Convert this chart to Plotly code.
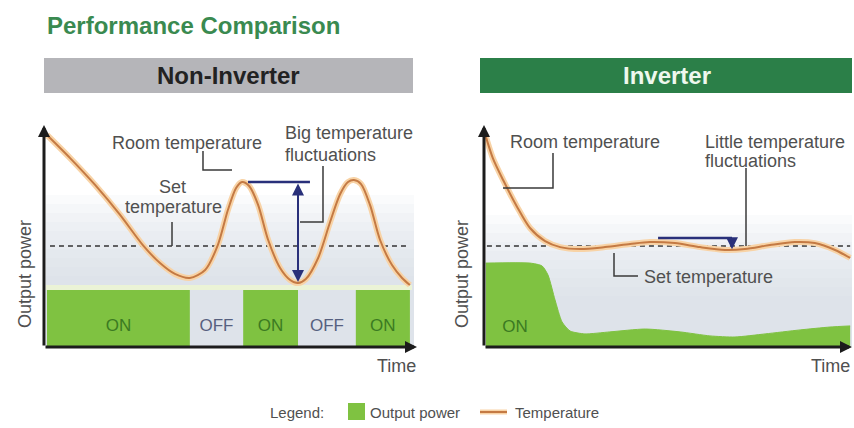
import plotly.graph_objects as go

# ---------------- data (schematic units: time 0-100, level 0-100) ----------------
ni_time = [0.8, 7.0, 13.7, 20.4, 26.5, 31.1, 35.1, 39.1, 43.2, 46.6, 49.3, 51.5, 53.1, 55.0, 57.4,
           60.1, 63.3, 66.0, 68.1, 70.2, 73.5, 76.7, 79.4, 81.5, 83.1, 85.0, 87.4, 90.1, 93.3, 96.0, 98.1]
ni_temp = [95.5, 85.1, 73.0, 59.5, 45.9, 37.8, 32.9, 31.1, 34.7, 45.9, 61.7, 71.6, 74.3, 72.5, 64.0,
           48.2, 35.6, 30.2, 28.8, 30.6, 40.1, 56.3, 68.9, 74.3, 75.2, 73.4, 64.0, 48.2, 36.9, 31.1, 27.9]

ni_seg_start = [0.8, 39.1, 53.4, 68.1, 83.6]
ni_seg_end = [39.1, 53.4, 68.1, 83.6, 98.1]
ni_state = ["ON", "OFF", "ON", "OFF", "ON"]
ni_power = [25.7, 0, 25.7, 0, 25.7]

inv_time = [0.3, 2.4, 5.2, 9.0, 12.5, 16.6, 20.7, 26.1, 32.9, 39.7, 45.1, 51.9, 58.7, 65.5,
            70.9, 77.7, 84.5, 89.9, 95.4, 99.5]
inv_temp = [95.9, 85.1, 75.2, 63.1, 53.6, 47.7, 45.0, 44.1, 45.0, 46.4, 47.3, 46.8, 45.0, 43.7,
            44.1, 45.9, 47.3, 46.8, 43.7, 40.1]

inv_power_time = [0.5, 12.5, 15.8, 17.4, 19.3, 21.2, 23.4, 27.4, 34.2, 43.8, 53.3, 61.4, 68.2,
                  76.4, 85.9, 94.0, 99.5]
inv_power = [37.8, 37.8, 36.5, 32.4, 21.2, 11.3, 7.2, 5.9, 6.8, 8.1, 6.8, 5.0, 4.5, 5.9, 7.7, 9.0, 9.5]

set_temp = 45.5
set_line_x = [1.6, 98.0]
inv_set_line_x = [0.8, 99.5]

# ---------------- styling ----------------
W, H = 854, 428
FONT = "Liberation Sans, Arial, sans-serif"
GREEN = "#7fc241"
TXT = "#505050"
NAVY = "#29307a"
HALO = "#f8d3a6"
CORE = "#c47a44"


def px(x):
    return x / W


def py(y):
    return 1 - y / H


fig = go.Figure()

# ---- Non-inverter: output power bars ----
mids = [(a + b) / 2 for a, b in zip(ni_seg_start, ni_seg_end)]
widths = [b - a for a, b in zip(ni_seg_start, ni_seg_end)]
fig.add_trace(go.Bar(x=mids, y=ni_power, width=widths, base=0, marker=dict(color=GREEN, line=dict(width=0)),
                     xaxis="x", yaxis="y", hoverinfo="skip"))
fig.add_trace(go.Scatter(x=mids, y=[9] * len(mids), mode="text", text=ni_state,
                         textfont=dict(family=FONT, size=17,
                                       color=["#3b7a22" if s == "ON" else "#56607f" for s in ni_state]),
                         xaxis="x", yaxis="y", hoverinfo="skip"))
# set temperature
fig.add_trace(go.Scatter(x=set_line_x, y=[set_temp] * 2, mode="lines",
                         line=dict(color="#333333", width=1.5, dash="5px,4px"), xaxis="x", yaxis="y"))
# temperature
fig.add_trace(go.Scatter(x=ni_time, y=ni_temp, mode="lines", line=dict(color=HALO, width=6, shape="spline", smoothing=0.8),
                         xaxis="x", yaxis="y"))
fig.add_trace(go.Scatter(x=ni_time, y=ni_temp, mode="lines", line=dict(color=CORE, width=2, shape="spline", smoothing=0.8),
                         xaxis="x", yaxis="y"))

# ---- Inverter ----
fig.add_trace(go.Scatter(x=inv_power_time, y=inv_power, mode="lines", fill="tozeroy", fillcolor=GREEN,
                         line=dict(color=GREEN, width=1, shape="spline", smoothing=0.6), xaxis="x2", yaxis="y2"))
fig.add_trace(go.Scatter(x=[8.4], y=[8.6], mode="text", text=["ON"],
                         textfont=dict(family=FONT, size=17, color="#3b7a22"), xaxis="x2", yaxis="y2"))
fig.add_trace(go.Scatter(x=inv_set_line_x, y=[set_temp] * 2, mode="lines",
                         line=dict(color="#333333", width=1.5, dash="5px,4px"), xaxis="x2", yaxis="y2"))
fig.add_trace(go.Scatter(x=inv_time, y=inv_temp, mode="lines", line=dict(color=HALO, width=6, shape="spline", smoothing=0.8),
                         xaxis="x2", yaxis="y2"))
fig.add_trace(go.Scatter(x=inv_time, y=inv_temp, mode="lines", line=dict(color=CORE, width=2, shape="spline", smoothing=0.8),
                         xaxis="x2", yaxis="y2"))

shapes = []
annotations = []

# background shading (soft vertical gradient built from thin stacked layers)
for (x0, x1, top0) in [(46, 414, 195), (486, 852, 215)]:
    for k in range(10):
        top = top0 + k * 9
        shapes.append(dict(type="rect", xref="paper", yref="paper", x0=px(x0), x1=px(x1), y0=py(346), y1=py(top),
                           fillcolor="rgba(214,218,228,0.11)", line=dict(width=0), layer="below"))
shapes.append(dict(type="rect", xref="paper", yref="paper", x0=px(46), x1=px(412), y0=py(290), y1=py(285),
                   fillcolor="#ebf3d6", line=dict(width=0), layer="below"))

# header bars
shapes.append(dict(type="rect", xref="paper", yref="paper", x0=px(44), x1=px(413), y0=py(93), y1=py(58),
                   fillcolor="#b5b5b9", line=dict(width=0)))
shapes.append(dict(type="rect", xref="paper", yref="paper", x0=px(480), x1=px(852), y0=py(93), y1=py(58),
                   fillcolor="#2b7f48", line=dict(width=0)))


def path(points, color="#3a3a3a", width=1.5):
    d = "M " + " L ".join(f"{px(x):.5f},{py(y):.5f}" for x, y in points)
    shapes.append(dict(type="path", xref="paper", yref="paper", path=d, line=dict(color=color, width=width)))


# leader lines
path([(203, 151), (203, 170), (232, 170)])
path([(323, 166), (323, 222), (300, 222)])
path([(172, 222), (172, 246)])
path([(553, 153), (553, 188), (503, 188)])
path([(746, 168), (746, 246)])
path([(614, 253), (614, 276), (638, 276)])

# navy fluctuation markers (from data)
pk_i = 12
tr_i = 18
shapes.append(dict(type="line", xref="x", yref="y", x0=ni_time[pk_i] + 1.6, x1=ni_time[tr_i] + 3.2,
                   y0=ni_temp[pk_i], y1=ni_temp[pk_i], line=dict(color=NAVY, width=2.5)))
annotations.append(dict(x=ni_time[tr_i], y=ni_temp[tr_i] + 0.5, ax=ni_time[tr_i], ay=ni_temp[pk_i],
                        xref="x", yref="y", axref="x", ayref="y", text="", showarrow=True,
                        arrowhead=2, arrowside="end+start", arrowsize=1.2, arrowwidth=2, arrowcolor=NAVY))
shapes.append(dict(type="line", xref="x2", yref="y2", x0=47.3, x1=67.4, y0=49.1, y1=49.1,
                   line=dict(color=NAVY, width=2.5)))
annotations.append(dict(x=67.4, y=44.0, ax=67.4, ay=49.1, xref="x2", yref="y2", axref="x2", ayref="y2",
                        text="", showarrow=True, arrowhead=2, arrowsize=1.2, arrowwidth=2, arrowcolor=NAVY))

# axes with arrows
for xr, yr in [("x", "y"), ("x2", "y2")]:
    annotations.append(dict(x=0, y=100, ax=0, ay=0, xref=xr, yref=yr, axref=xr, ayref=yr, text="",
                            showarrow=True, arrowhead=2, arrowsize=0.8, arrowwidth=3, arrowcolor="#1c1c1c"))
    annotations.append(dict(x=100, y=0, ax=0, ay=0, xref=xr, yref=yr, axref=xr, ayref=yr, text="",
                            showarrow=True, arrowhead=2, arrowsize=0.8, arrowwidth=3, arrowcolor="#1c1c1c"))


def txt(x, y, s, size=18, color=TXT, xanchor="center", bold=False, angle=0):
    annotations.append(dict(x=px(x), y=py(y), xref="paper", yref="paper", text=(f"<b>{s}</b>" if bold else s),
                            showarrow=False, xanchor=xanchor, yanchor="middle", textangle=angle,
                            font=dict(family=FONT, size=size, color=color)))


txt(45, 25, "Performance Comparison", size=24, color="#3a8a50", xanchor="left", bold=True)
txt(228, 75, "Non-Inverter", size=24, color="#222222", bold=True)
txt(667, 75, "Inverter", size=24, color="#eef8ee", bold=True)

txt(187, 143, "Room temperature")
txt(283, 133, "Big temperature", xanchor="left")
txt(283, 155, "fluctuations", xanchor="left")
txt(172, 187, "Set")
txt(173, 207, "temperature")
txt(418, 366, "Time", xanchor="right")
txt(25, 274, "Output power", angle=-90)

txt(508, 142, "Room temperature", xanchor="left")
txt(703, 142, "Little temperature", xanchor="left")
txt(703, 161, "fluctuations", xanchor="left")
txt(642, 277, "Set temperature", xanchor="left")
txt(852, 366, "Time", xanchor="right")
txt(462, 274, "Output power", angle=-90)

# legend
txt(297, 412, "Legend:", size=15)
shapes.append(dict(type="rect", xref="paper", yref="paper", x0=px(348), x1=px(365), y0=py(420), y1=py(403),
                   fillcolor=GREEN, line=dict(width=0)))
txt(368, 412, "Output power", size=15, xanchor="left")
shapes.append(dict(type="line", xref="paper", yref="paper", x0=px(480), x1=px(507), y0=py(412), y1=py(412),
                   line=dict(color=HALO, width=5)))
shapes.append(dict(type="line", xref="paper", yref="paper", x0=px(480), x1=px(507), y0=py(412), y1=py(412),
                   line=dict(color=CORE, width=2)))
txt(513, 412, "Temperature", size=15, xanchor="left")

ax_common = dict(visible=False, fixedrange=True, range=[0, 100])
fig.update_layout(
    width=W, height=H, margin=dict(l=0, r=0, t=0, b=0),
    paper_bgcolor="white", plot_bgcolor="rgba(0,0,0,0)",
    showlegend=False, hovermode=False,
    xaxis=dict(domain=[px(44), px(417)], anchor="y", **ax_common),
    yaxis=dict(domain=[py(347), py(125)], anchor="x", **ax_common),
    xaxis2=dict(domain=[px(484), px(852)], anchor="y2", **ax_common),
    yaxis2=dict(domain=[py(347), py(125)], anchor="x2", **ax_common),
    shapes=shapes, annotations=annotations,
)

fig.write_html("out.html", config={"displayModeBar": False},
               post_script="document.body.style.margin='0';document.body.style.overflow='hidden';")
